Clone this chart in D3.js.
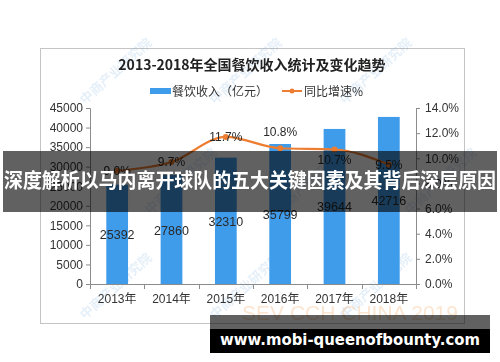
<!DOCTYPE html>
<html>
<head>
<meta charset="utf-8">
<script src="https://cdn.jsdelivr.net/npm/d3@7"></script>
<style>
  body { margin: 0; background: #fff; }
  svg { display: block; }
  .axis text { font-family: "Liberation Sans", "Noto Sans CJK SC", sans-serif; font-size: 12px; fill: #333; }
  .axis path, .axis line { stroke: #8c8c8c; }
</style>
</head>
<body>
<div id="plotArea"></div>
<script>
// chart data
const years = ["2013年", "2014年", "2015年", "2016年", "2017年", "2018年"];
const revenue = [25392, 27860, 32310, 35799, 39644, 42716];
const growth = [9.0, 9.7, 11.7, 10.8, 10.7, 9.5];
const growthLabelPlace = ["center", "center", "center", "above", "below", "center"];
const leftTicks = [0, 5000, 10000, 15000, 20000, 25000, 30000, 35000, 40000, 45000];
const rightTicks = [0, 2, 4, 6, 8, 10, 12, 14];

const title = "2013-2018年全国餐饮收入统计及变化趋势";
const legendBar = "餐饮收入（亿元）";
const legendLine = "同比增速%";
const banner = "深度解析以马内离开球队的五大关键因素及其背后深层原因";
const footer = "www.mobi-queenofbounty.com";

const barColor = "#3f9ceb";
const lineColor = "#ed7d31";

let svg = d3.select("#plotArea").append("svg")
    .attr("width", 500)
    .attr("height", 362);

// chart frame
svg.append("rect")
    .attr("x", 40.5).attr("y", 48.5)
    .attr("width", 424).attr("height", 275)
    .attr("fill", "#fff")
    .attr("stroke", "#c4c4c4");

// watermarks
let wm = svg.append("g").attr("fill", "#5d9bd8").attr("opacity", 0.16)
    .style("font-family", "Noto Sans CJK SC").style("font-size", "13px").style("font-weight", "bold");
[[85, 105], [215, 105], [345, 105], [150, 215], [280, 215], [410, 215], [85, 320], [215, 320], [345, 320]].forEach(p => {
    wm.append("text")
        .attr("transform", "translate(" + p[0] + "," + p[1] + ") rotate(-42)")
        .text("中商产业研究院");
});
svg.append("text")
    .attr("x", 350).attr("y", 320)
    .attr("text-anchor", "middle")
    .style("font-family", "Liberation Sans").style("font-size", "21px")
    .attr("fill", "#f3b47a").attr("opacity", 0.35)
    .text("SEV CCH CHINA 2019");

// title
svg.append("text")
    .attr("x", 252).attr("y", 70)
    .attr("text-anchor", "middle")
    .style("font-family", "Noto Sans CJK SC").style("font-size", "14px").style("font-weight", "bold")
    .attr("fill", "#222")
    .text(title);

// legend
svg.append("rect").attr("x", 150).attr("y", 88).attr("width", 21).attr("height", 6).attr("fill", barColor);
svg.append("text").attr("x", 172).attr("y", 95.5)
    .style("font-family", "Noto Sans CJK SC").style("font-size", "12px").attr("fill", "#333")
    .text(legendBar);
svg.append("line").attr("x1", 282).attr("x2", 302).attr("y1", 91).attr("y2", 91)
    .attr("stroke", lineColor).attr("stroke-width", 2);
svg.append("circle").attr("cx", 292).attr("cy", 91).attr("r", 2.5).attr("fill", lineColor);
svg.append("text").attr("x", 304).attr("y", 95.5)
    .style("font-family", "Noto Sans CJK SC").style("font-size", "12px").attr("fill", "#333")
    .text(legendLine);

// scales
let xScale = d3.scaleBand()
    .domain(years)
    .range([90, 416])
    .paddingInner(0.6)
    .paddingOuter(0.3);
let yLeft = d3.scaleLinear().domain([0, 45000]).range([284, 108]);
let yRight = d3.scaleLinear().domain([0, 14]).range([284, 108]);

// axes
svg.append("g")
    .attr("class", "axis")
    .attr("transform", "translate(90,0)")
    .call(d3.axisLeft(yLeft).tickValues(leftTicks).tickFormat(d3.format("d")).tickSize(4).tickPadding(3))
    .call(g => g.select(".domain").attr("d", "M-4,108.5H0.5V284.5H-4"));

svg.append("g")
    .attr("class", "axis")
    .attr("transform", "translate(416,0)")
    .call(d3.axisRight(yRight).tickValues(rightTicks).tickFormat(d => d3.format(".1f")(d) + "%").tickSize(4).tickPadding(5))
    .call(g => g.select(".domain").attr("d", "M4,108.5H0.5V284.5H4"));

// x axis baseline with ticks between categories
let xAxisG = svg.append("g").attr("class", "axis");
xAxisG.append("line").attr("x1", 90).attr("x2", 416).attr("y1", 284.5).attr("y2", 284.5);
let step = xScale.step();
d3.range(years.length + 1).forEach(i => {
    let x = Math.round(90 + i * step) + 0.5;
    xAxisG.append("line").attr("x1", x).attr("x2", x).attr("y1", 284.5).attr("y2", 289);
});
xAxisG.selectAll(".xlab")
    .data(years)
    .enter().append("text")
    .attr("class", "xlab")
    .attr("x", d => xScale(d) + xScale.bandwidth() / 2)
    .attr("y", 303)
    .attr("text-anchor", "middle")
    .text(d => d);

// bars
svg.selectAll(".bar")
    .data(revenue)
    .enter().append("rect")
    .attr("class", "bar")
    .attr("x", (d, i) => xScale(years[i]))
    .attr("y", d => yLeft(d))
    .attr("width", xScale.bandwidth())
    .attr("height", d => yLeft(0) - yLeft(d))
    .attr("fill", barColor);

svg.selectAll(".barlab")
    .data(revenue)
    .enter().append("text")
    .attr("class", "barlab")
    .attr("x", (d, i) => xScale(years[i]) + xScale.bandwidth() / 2)
    .attr("y", d => (yLeft(d) + yLeft(0)) / 2 + 5)
    .attr("text-anchor", "middle")
    .style("font-family", "Liberation Sans").style("font-size", "12.5px")
    .attr("fill", "#2a2a2a")
    .text(d => d);

// growth line
let cx = i => xScale(years[i]) + xScale.bandwidth() / 2;
let line = d3.line()
    .x((d, i) => cx(i))
    .y(d => yRight(d))
    .curve(d3.curveMonotoneX);

svg.append("path")
    .datum(growth)
    .attr("d", line)
    .attr("fill", "none")
    .attr("stroke", lineColor)
    .attr("stroke-width", 2.2);

svg.selectAll(".dot")
    .data(growth)
    .enter().append("circle")
    .attr("cx", (d, i) => cx(i))
    .attr("cy", d => yRight(d))
    .attr("r", 3)
    .attr("fill", lineColor);

let labelShift = { center: 4, above: -12, below: 15 };
svg.selectAll(".linelab")
    .data(growth)
    .enter().append("text")
    .attr("x", (d, i) => cx(i))
    .attr("y", (d, i) => yRight(d) + labelShift[growthLabelPlace[i]])
    .attr("text-anchor", "middle")
    .style("font-family", "Liberation Sans").style("font-size", "12px")
    .attr("fill", "#2a2a2a")
    .text(d => d3.format(".1f")(d) + "%");

// overlay banner
svg.append("rect")
    .attr("x", 3).attr("y", 151)
    .attr("width", 494).attr("height", 61)
    .attr("fill", "#000").attr("opacity", 0.62);
svg.append("text")
    .attr("x", 4).attr("y", 188)
    .attr("textLength", 492)
    .attr("lengthAdjust", "spacingAndGlyphs")
    .style("font-family", "Noto Sans CJK SC").style("font-size", "20px").style("font-weight", "bold")
    .attr("fill", "#fff")
    .text(banner);

// footer banner
svg.append("rect")
    .attr("x", 210).attr("y", 315)
    .attr("width", 280).attr("height", 14)
    .attr("fill", "#000").attr("opacity", 0.62);
svg.append("rect")
    .attr("x", 210).attr("y", 329)
    .attr("width", 280).attr("height", 24)
    .attr("fill", "#000");
svg.append("text")
    .attr("x", 220).attr("y", 345)
    .attr("textLength", 260)
    .attr("lengthAdjust", "spacingAndGlyphs")
    .style("font-family", "DejaVu Sans").style("font-size", "16px").style("font-weight", "bold")
    .attr("fill", "#fff")
    .text(footer);
</script>
</body>
</html>
